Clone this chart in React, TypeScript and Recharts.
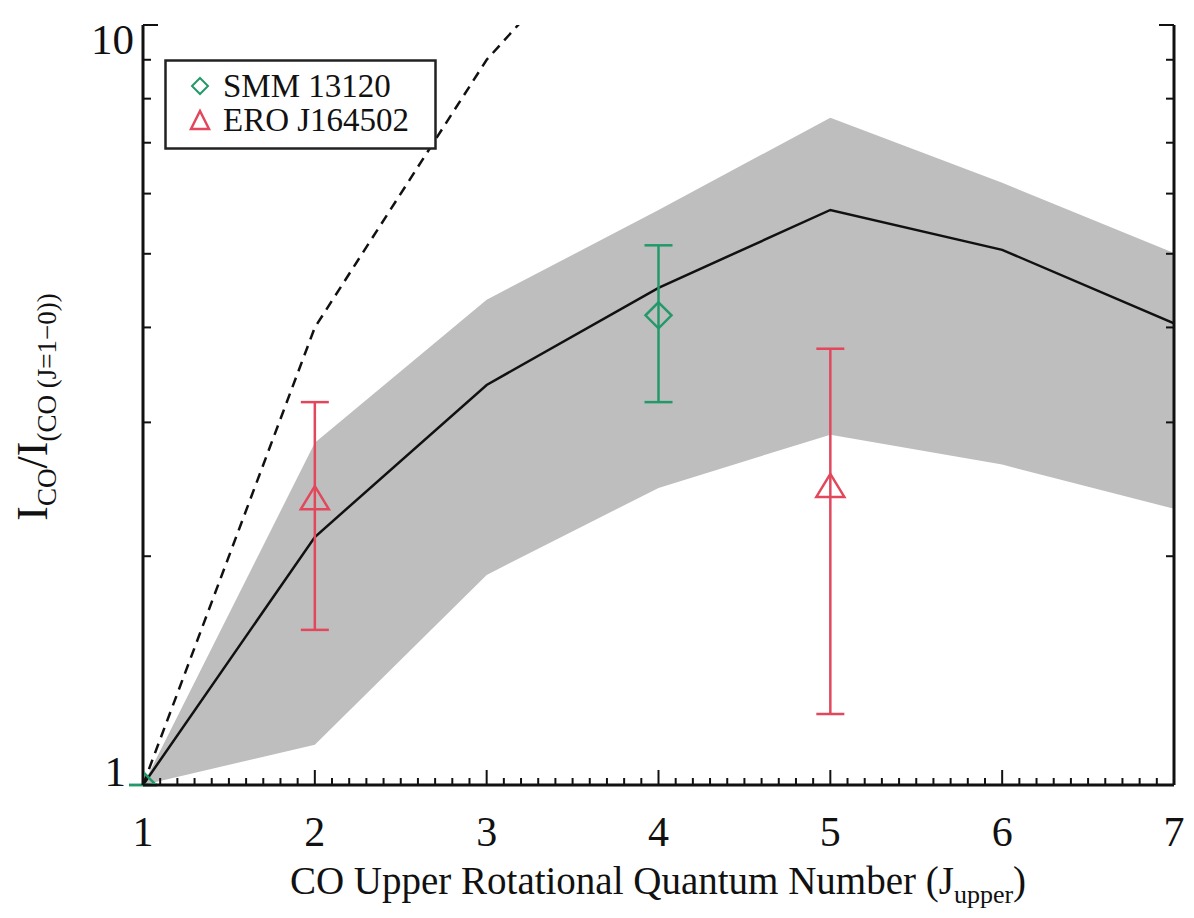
import {
  ComposedChart,
  Area,
  Line,
  Scatter,
  ErrorBar,
  XAxis,
  YAxis,
} from "recharts";

const SERIF = "Liberation Serif, DejaVu Serif, Times New Roman, serif";
const INK = "#111";
const GREEN = "#23996a";
const RED = "#e2475c";
const BAND = "#bebebe";
const txt = { fontFamily: SERIF };

// CO ladder: J_upper values
const jUpper = [1, 2, 3, 4, 5, 6, 7];
// median model line ratio and its spread
const modelRatio = [1, 2.12, 3.36, 4.51, 5.71, 5.06, 4.05];
const bandLow = [1, 1.13, 1.89, 2.46, 2.89, 2.64, 2.31];
const bandHigh = [1, 2.82, 4.35, 5.71, 7.55, 6.2, 5.01];
// thermalised, optically thin curve (J^2), runs off the top of the plot
const thermalRatio = [1, 4, 9, 16, 25, 36, 49];

// SMM 13120
const smmJ = [1, 4];
const smmRatio = [1, 4.15];
const smmErrLow = [0, 0.96];
const smmErrHigh = [0, 0.98];

// ERO J164502
const eroJ = [2, 5];
const eroRatio = [2.37, 2.46];
const eroErrLow = [0.77, 1.22];
const eroErrHigh = [0.82, 1.29];

const xMajorTicks = [1, 2, 3, 4, 5, 6, 7];
const yTicks = [1, 2, 3, 4, 5, 6, 7, 8, 9, 10];
const yLabelled = [1, 10];

const xTicks = Array.from({ length: 61 }, (_, i) => 1 + i / 10);

const lineRows = jUpper.map((j, i) => ({
  j,
  model: modelRatio[i],
  band: [bandLow[i], bandHigh[i]],
  thermal: thermalRatio[i],
}));

const smmRows = smmJ.map((j, i) => ({
  j,
  ratio: smmRatio[i],
  err: [smmErrLow[i], smmErrHigh[i]],
}));

const eroRows = eroJ.map((j, i) => ({
  j,
  ratio: eroRatio[i],
  err: [eroErrLow[i], eroErrHigh[i]],
}));

const isMajor = (v: number) => xMajorTicks.some((m) => Math.abs(m - v) < 1e-6);

function BottomTick({ x, y, payload }: any) {
  const major = isMajor(payload.value);
  return (
    <g>
      <line x1={x} y1={y} x2={x} y2={y - (major ? 15 : 7)} stroke={INK} strokeWidth={2} />
      {major && (
        <text x={x} y={y + 61} textAnchor="middle" fontSize={42} style={txt} fill={INK}>
          {Math.round(payload.value)}
        </text>
      )}
    </g>
  );
}

function TopTick({ x, y, payload }: any) {
  const major = isMajor(payload.value);
  return <line x1={x} y1={y} x2={x} y2={y + (major ? 15 : 7)} stroke={INK} strokeWidth={2} />;
}

function LeftTick({ x, y, payload }: any) {
  const v = payload.value;
  const labelled = yLabelled.includes(v);
  return (
    <g>
      <line x1={x} y1={y} x2={x + (labelled ? 15 : 8)} y2={y} stroke={INK} strokeWidth={2} />
      {labelled && (
        <text
          x={v === 10 ? x - 9 : x - 17}
          y={v === 10 ? y + 29 : y + 1}
          textAnchor="end"
          fontSize={43}
          style={txt}
          fill={INK}
        >
          {v}
        </text>
      )}
    </g>
  );
}

function RightTick({ x, y, payload }: any) {
  const labelled = yLabelled.includes(payload.value);
  return <line x1={x} y1={y} x2={x - (labelled ? 15 : 8)} y2={y} stroke={INK} strokeWidth={2} />;
}

function XTitle() {
  return (
    <text x={658} y={894} textAnchor="middle" fontSize={39} style={txt} fill={INK}>
      CO Upper Rotational Quantum Number (J
      <tspan fontSize={26} dy={9}>upper</tspan>
      <tspan dy={-9}>)</tspan>
    </text>
  );
}

function YTitle() {
  return (
    <text
      transform="translate(47, 407) rotate(-90)"
      textAnchor="middle"
      fontSize={44}
      style={txt}
      fill={INK}
    >
      I<tspan fontSize={27} dy={9}>CO</tspan>
      <tspan dy={-9}>/I</tspan>
      <tspan fontSize={27} dy={9}>(CO (J=1−0))</tspan>
    </text>
  );
}

function Diamond({ cx, cy }: any) {
  const r = 13;
  return (
    <polygon
      points={`${cx},${cy - r} ${cx + r},${cy} ${cx},${cy + r} ${cx - r},${cy}`}
      fill="none"
      stroke={GREEN}
      strokeWidth={2.5}
    />
  );
}

function Triangle({ cx, cy }: any) {
  return (
    <polygon
      points={`${cx},${cy - 14} ${cx + 14},${cy + 9} ${cx - 14},${cy + 9}`}
      fill="none"
      stroke={RED}
      strokeWidth={2.5}
    />
  );
}

function LegendBox() {
  return (
    <svg
      width={274}
      height={92}
      style={{ position: "absolute", left: 164, top: 59 }}
    >
      <rect x={1.5} y={1.5} width={270} height={88} fill="#fff" stroke="#222" strokeWidth={2.5} />
      <polygon points="36,19 44,27 36,35 28,27" fill="none" stroke={GREEN} strokeWidth={2} />
      <text x={59} y={38} fontSize={33} style={txt} fill={INK}>
        SMM 13120
      </text>
      <polygon points="36,52 45,70 27,70" fill="none" stroke={RED} strokeWidth={2.5} />
      <text x={59} y={72} fontSize={33} style={txt} fill={INK}>
        ERO J164502
      </text>
    </svg>
  );
}

export default function App() {
  return (
    <div style={{ position: "absolute", left: 0, top: 0, width: 1194, height: 918, background: "#fff" }}>
      <ComposedChart
        width={1194}
        height={918}
        data={lineRows}
        margin={{ top: 25, right: 0, bottom: 0, left: 0 }}
      >
        <XAxis
          xAxisId="b"
          dataKey="j"
          type="number"
          domain={[1, 7]}
          allowDataOverflow
          ticks={xTicks}
          interval={0}
          height={133}
          tickSize={0}
          tickMargin={0}
          tickLine={false}
          axisLine={{ stroke: INK, strokeWidth: 3 }}
          tick={<BottomTick />}
          label={<XTitle />}
        />
        <XAxis
          xAxisId="t"
          orientation="top"
          type="number"
          domain={[1, 7]}
          allowDataOverflow
          ticks={xTicks}
          interval={0}
          height={0}
          tickSize={0}
          tickMargin={0}
          tickLine={false}
          axisLine={{ stroke: INK, strokeWidth: 3 }}
          tick={<TopTick />}
        />
        <YAxis
          yAxisId="l"
          type="number"
          scale="log"
          domain={[1, 10]}
          allowDataOverflow
          ticks={yTicks}
          interval={0}
          width={143}
          tickSize={0}
          tickMargin={0}
          tickLine={false}
          axisLine={{ stroke: INK, strokeWidth: 3 }}
          tick={<LeftTick />}
          label={<YTitle />}
        />
        <YAxis
          yAxisId="r"
          orientation="right"
          type="number"
          scale="log"
          domain={[1, 10]}
          allowDataOverflow
          ticks={yTicks}
          interval={0}
          width={20}
          tickSize={0}
          tickMargin={0}
          tickLine={false}
          axisLine={{ stroke: INK, strokeWidth: 3 }}
          tick={<RightTick />}
        />
        <Area
          xAxisId="b"
          yAxisId="l"
          type="linear"
          dataKey="band"
          fill={BAND}
          fillOpacity={1}
          stroke="none"
          isAnimationActive={false}
        />
        <Line
          xAxisId="b"
          yAxisId="l"
          type="linear"
          dataKey="thermal"
          stroke={INK}
          strokeWidth={2.5}
          strokeDasharray="10 7"
          dot={false}
          isAnimationActive={false}
        />
        <Line
          xAxisId="b"
          yAxisId="l"
          type="linear"
          dataKey="model"
          stroke={INK}
          strokeWidth={2.5}
          dot={false}
          isAnimationActive={false}
        />
        <Scatter
          xAxisId="b"
          yAxisId="l"
          data={smmRows}
          dataKey="ratio"
          shape={(p: any) => <Diamond {...p} />}
          isAnimationActive={false}
        >
          <ErrorBar dataKey="err" direction="y" width={14} stroke={GREEN} strokeWidth={2.5} />
        </Scatter>
        <Scatter
          xAxisId="b"
          yAxisId="l"
          data={eroRows}
          dataKey="ratio"
          shape={(p: any) => <Triangle {...p} />}
          isAnimationActive={false}
        >
          <ErrorBar dataKey="err" direction="y" width={14} stroke={RED} strokeWidth={2.5} />
        </Scatter>
      </ComposedChart>
      <LegendBox />
    </div>
  );
}
